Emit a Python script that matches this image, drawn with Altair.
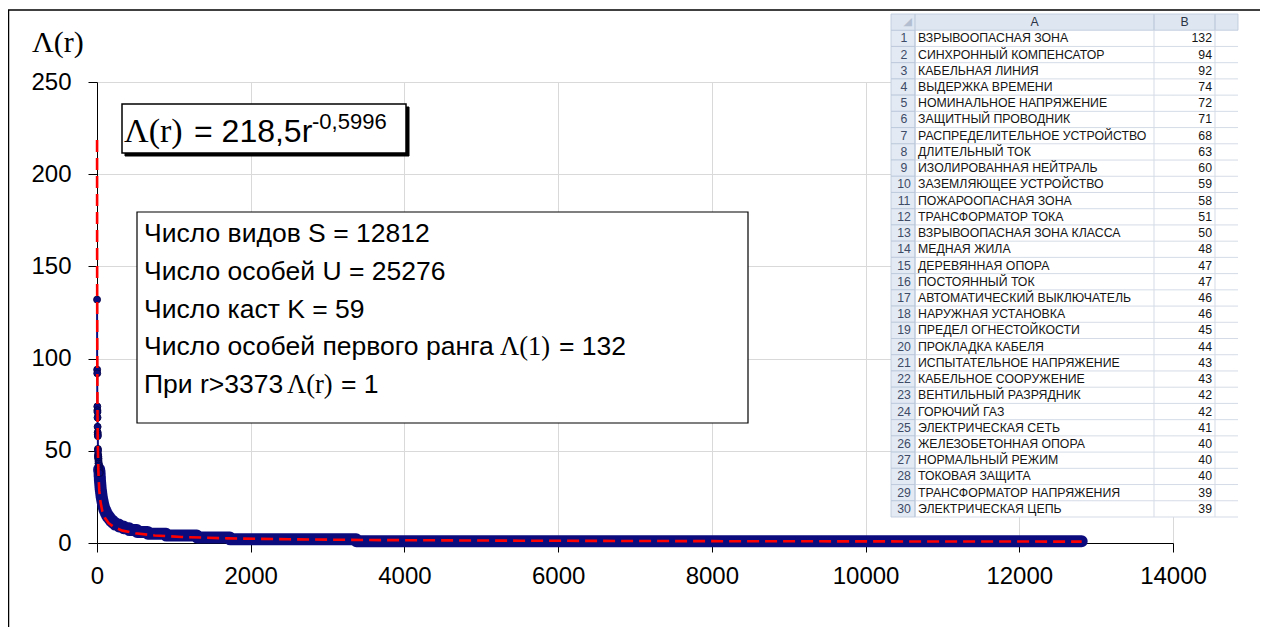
import altair as alt
import pandas as pd

# ---------------- data ----------------
top_terms = [
    "ВЗРЫВООПАСНАЯ ЗОНА", "СИНХРОННЫЙ КОМПЕНСАТОР", "КАБЕЛЬНАЯ ЛИНИЯ",
    "ВЫДЕРЖКА ВРЕМЕНИ", "НОМИНАЛЬНОЕ НАПРЯЖЕНИЕ", "ЗАЩИТНЫЙ ПРОВОДНИК",
    "РАСПРЕДЕЛИТЕЛЬНОЕ УСТРОЙСТВО", "ДЛИТЕЛЬНЫЙ ТОК", "ИЗОЛИРОВАННАЯ НЕЙТРАЛЬ",
    "ЗАЗЕМЛЯЮЩЕЕ УСТРОЙСТВО", "ПОЖАРООПАСНАЯ ЗОНА", "ТРАНСФОРМАТОР ТОКА",
    "ВЗРЫВООПАСНАЯ ЗОНА КЛАССА", "МЕДНАЯ ЖИЛА", "ДЕРЕВЯННАЯ ОПОРА",
    "ПОСТОЯННЫЙ ТОК", "АВТОМАТИЧЕСКИЙ ВЫКЛЮЧАТЕЛЬ", "НАРУЖНАЯ УСТАНОВКА",
    "ПРЕДЕЛ ОГНЕСТОЙКОСТИ", "ПРОКЛАДКА КАБЕЛЯ", "ИСПЫТАТЕЛЬНОЕ НАПРЯЖЕНИЕ",
    "КАБЕЛЬНОЕ СООРУЖЕНИЕ", "ВЕНТИЛЬНЫЙ РАЗРЯДНИК", "ГОРЮЧИЙ ГАЗ",
    "ЭЛЕКТРИЧЕСКАЯ СЕТЬ", "ЖЕЛЕЗОБЕТОННАЯ ОПОРА", "НОРМАЛЬНЫЙ РЕЖИМ",
    "ТОКОВАЯ ЗАЩИТА", "ТРАНСФОРМАТОР НАПРЯЖЕНИЯ", "ЭЛЕКТРИЧЕСКАЯ ЦЕПЬ",
]
top_counts = [132, 94, 92, 74, 72, 71, 68, 63, 60, 59, 58, 51, 50, 48, 47, 47,
              46, 46, 45, 44, 43, 43, 42, 42, 41, 40, 40, 40, 39, 39]

# tail of the rank distribution (value, last rank holding that value)
tail_values = [39, 38, 36, 34, 33, 32, 31, 30, 29, 28, 27, 26, 25, 24, 23, 22,
               21, 20, 19, 18, 17, 16, 15, 14, 13, 12, 11, 10, 9, 8, 7, 6, 5,
               4, 3, 2, 1]
tail_last_rank = [32, 34, 37, 39, 41, 43, 45, 47, 50, 53, 56, 59, 63, 67, 72,
                  77, 82, 88, 95, 106, 116, 128, 143, 160, 180, 205, 235, 285,
                  345, 420, 520, 660, 900, 1300, 1730, 3373, 12812]

# power-law trend line as displayed
trend_rank = [1, 1.5, 2, 3, 4, 6, 9, 14, 20, 30, 45, 70, 100, 150, 220, 330,
              500, 750, 1100, 1700, 2500, 3700, 5500, 8000, 10500, 12812]
trend_value = [218.5, 171.3, 144.2, 113.0, 95.1, 74.6, 58.5, 44.9, 36.2, 28.4,
               22.3, 17.1, 13.8, 10.8, 8.6, 6.7, 5.25, 4.1, 3.27, 2.52, 2.0,
               1.58, 1.25, 0.99, 0.85, 0.75]

x_ticks = [0, 2000, 4000, 6000, 8000, 10000, 12000, 14000]
y_ticks = [0, 50, 100, 150, 200, 250]

y_title = "Λ(r)"
eq_lhs, eq_rhs, eq_exp = "Λ(r)", "= 218,5r", "-0,5996"
stats_lines = ["Число видов S = 12812", "Число особей U = 25276",
               "Число каст K = 59"]
stats_line4 = ["Число особей первого ранга", "Λ(1)", "= 132"]
stats_line5 = ["При r>3373", "Λ(r)", "= 1"]

# ---------------- build tables ----------------
pts = [(i + 1, c) for i, c in enumerate(top_counts)]
prev = len(top_counts)
for v, last in zip(tail_values, tail_last_rank):
    pts.append((prev + 1, v))
    if last > prev + 1:
        pts.append((last, v))
    prev = last
series = pd.DataFrame(pts, columns=["rank", "count"])
head = series[series["rank"] <= 31]
tail = series[series["rank"] >= 28]
markers = series[series["rank"] <= 34]
trend = pd.DataFrame({"rank": trend_rank, "value": trend_value})

W, H = 1076, 461
SANS = "Liberation Sans"
SERIF = "Liberation Serif"
NAVY = "#0B0B7E"

xs = alt.Scale(domain=[0, 14000], nice=False, zero=False)
ys = alt.Scale(domain=[0, 250], nice=False)

xaxis = alt.Axis(values=x_ticks, format="d", grid=True, gridColor="#D9D9D9",
                 domainColor="black", tickColor="black", tickSize=9,
                 labelFont=SANS, labelFontSize=24, labelColor="black",
                 labelPadding=12, labelFlush=False, title=None)
yaxis = alt.Axis(values=y_ticks, format="d", grid=True, gridColor="#D9D9D9",
                 domainColor="black", tickColor="black", tickSize=9,
                 labelFont=SANS, labelFontSize=24, labelColor="black",
                 labelPadding=17, title=None)

thin = alt.Chart(head).mark_line(color=NAVY, strokeWidth=2).encode(
    x=alt.X("rank:Q", scale=xs, axis=xaxis),
    y=alt.Y("count:Q", scale=ys, axis=yaxis))
thick = alt.Chart(tail).mark_line(color=NAVY, strokeWidth=12, strokeCap="round",
                                  strokeJoin="round").encode(
    x=alt.X("rank:Q", scale=xs), y=alt.Y("count:Q", scale=ys))
dots = alt.Chart(markers).mark_circle(color=NAVY, size=48, opacity=1,
                                      stroke="#05054F", strokeWidth=1).encode(
    x=alt.X("rank:Q", scale=xs), y=alt.Y("count:Q", scale=ys))
trend_line = alt.Chart(trend).mark_line(color="#FF0000", strokeWidth=2.6,
                                        strokeDash=[12, 6]).encode(
    x=alt.X("rank:Q", scale=xs), y=alt.Y("value:Q", scale=ys))


def txt(s, x, y, size, font=SANS, align="left", baseline="alphabetic"):
    return alt.Chart(pd.DataFrame({"t": [s]})).mark_text(
        align=align, baseline=baseline, font=font, fontSize=size,
        color="black").encode(text="t:N", x=alt.value(x), y=alt.value(y))


def box(x0, y0, x1, y1, fill="white", stroke="black", sw=1.0):
    return alt.Chart(pd.DataFrame({"a": [0]})).mark_rect(
        fill=fill, stroke=stroke, strokeWidth=sw).encode(
        x=alt.value(x0), x2=alt.value(x1), y=alt.value(y0), y2=alt.value(y1))


one = pd.DataFrame({"a": [0]})
frame_top = alt.Chart(one).mark_rule(color="black", strokeWidth=1.5).encode(
    x=alt.value(-89), x2=alt.value(1171), y=alt.value(-72))
frame_left = alt.Chart(one).mark_rule(color="black", strokeWidth=1.5).encode(
    x=alt.value(-88.5), y=alt.value(-72), y2=alt.value(560))

FS = 26.5
annos = [
    frame_top, frame_left,
    txt(y_title, -65, -30, 30, SERIF),
    box(28, 25, 312, 74, fill="black", stroke="black"),
    box(25, 22, 309, 71, sw=1.5),
    txt(eq_lhs, 27, 60, 34, SERIF),
    txt(eq_rhs, 97, 60, 32),
    txt(eq_exp, 215, 47, 22),
    box(40, 130, 651, 341, sw=1.2),
]
bl = [160, 198, 236, 273, 311]
for i, s in enumerate(stats_lines):
    annos.append(txt(s, 47, bl[i], FS))
annos += [
    txt(stats_line4[0], 47, bl[3], FS),
    txt(stats_line4[1], 403, bl[3], FS, SERIF),
    txt(stats_line4[2], 462, bl[3], FS),
    txt(stats_line5[0], 47, bl[4], FS),
    txt(stats_line5[1], 190, bl[4], FS, SERIF),
    txt(stats_line5[2], 244, bl[4], FS),
]

main = alt.layer(thin, thick, dots, trend_line, *annos)

# ---------------- spreadsheet inset ----------------
tdf = pd.DataFrame({"row": list(range(1, 31)), "term": top_terms,
                    "count": top_counts})
tdf["lo"] = tdf["row"] - 0.5
tdf["hi"] = tdf["row"] + 0.5
hdf = pd.DataFrame({"row": [0], "lo": [-0.5], "hi": [0.5],
                    "A": ["A"], "B": ["B"]})
ts = alt.Scale(domain=[-0.5, 30.5], range=[-68, 435], nice=False, zero=False)
TX0, TXR, TXA, TXB, TX1 = 794, 818, 1057, 1118, 1141
GRID = "#D5DCE7"
HGRID = "#B9C6D9"
TFS = 12.3

t_bg = alt.Chart(tdf).mark_rect(fill="white").encode(
    x=alt.value(TX0), x2=alt.value(TX1),
    y=alt.Y("lo:Q", scale=ts, axis=None), y2="hi:Q")
t_rowhdr = alt.Chart(tdf).mark_rect(fill="#E4EAF4", stroke=HGRID,
                                    strokeWidth=0.8).encode(
    x=alt.value(TX0), x2=alt.value(TXR),
    y=alt.Y("lo:Q", scale=ts, axis=None), y2="hi:Q")
t_hdr = alt.Chart(hdf).mark_rect(fill="#DEE6F1", stroke=HGRID,
                                 strokeWidth=0.8).encode(
    x=alt.value(TX0), x2=alt.value(TX1),
    y=alt.Y("lo:Q", scale=ts, axis=None), y2="hi:Q")
t_hlines = alt.Chart(tdf).mark_rule(color=GRID, strokeWidth=1).encode(
    x=alt.value(TXR), x2=alt.value(TX1),
    y=alt.Y("hi:Q", scale=ts, axis=None))
t_vlines = [alt.Chart(hdf).mark_rule(color=c, strokeWidth=1).encode(
    x=alt.value(xv), y=alt.Y("lo:Q", scale=ts, axis=None),
    y2=alt.value(435)) for xv, c in [(TXR, HGRID), (TXA, GRID), (TXB, GRID)]]
t_hdr_v = [alt.Chart(hdf).mark_rule(color=HGRID, strokeWidth=1).encode(
    x=alt.value(xv), y=alt.Y("lo:Q", scale=ts, axis=None),
    y2="hi:Q") for xv in [TXA, TXB]]
t_corner = alt.Chart(hdf).mark_text(text="◢", font="DejaVu Sans", fontSize=11,
                                    color="#B3BFD0", align="right",
                                    baseline="middle").encode(
    x=alt.value(TXR - 3), y=alt.Y("row:Q", scale=ts, axis=None))
t_A = alt.Chart(hdf).mark_text(font=SANS, fontSize=TFS, color="#2B3445",
                               align="center", baseline="middle").encode(
    text="A:N", x=alt.value((TXR + TXA) / 2),
    y=alt.Y("row:Q", scale=ts, axis=None))
t_B = alt.Chart(hdf).mark_text(font=SANS, fontSize=TFS, color="#2B3445",
                               align="center", baseline="middle").encode(
    text="B:N", x=alt.value((TXA + TXB) / 2),
    y=alt.Y("row:Q", scale=ts, axis=None))
t_num = alt.Chart(tdf).mark_text(font=SANS, fontSize=TFS, color="#3D4B66",
                                 align="center", baseline="middle").encode(
    text="row:Q", x=alt.value((TX0 + TXR) / 2 + 1),
    y=alt.Y("row:Q", scale=ts, axis=None))
t_term = alt.Chart(tdf).mark_text(font=SANS, fontSize=TFS, color="#141414",
                                  align="left", baseline="middle").encode(
    text="term:N", x=alt.value(TXR + 3),
    y=alt.Y("row:Q", scale=ts, axis=None))
t_cnt = alt.Chart(tdf).mark_text(font=SANS, fontSize=TFS, color="#141414",
                                 align="right", baseline="middle").encode(
    text="count:Q", x=alt.value(TXB - 3),
    y=alt.Y("row:Q", scale=ts, axis=None))

table = alt.layer(t_bg, t_rowhdr, t_hdr, t_hlines, *t_vlines, *t_hdr_v,
                  t_corner, t_A, t_B, t_num, t_term, t_cnt)

chart = alt.layer(main, table).resolve_scale(y="independent").properties(
    width=W, height=H,
    autosize=alt.AutoSizeParams(type="none"),
    padding={"left": 89, "top": 74, "right": 87, "bottom": 84},
    background="white",
).configure_view(stroke=None)

chart.save("out.html", embed_options={"renderer": "svg", "actions": False})
